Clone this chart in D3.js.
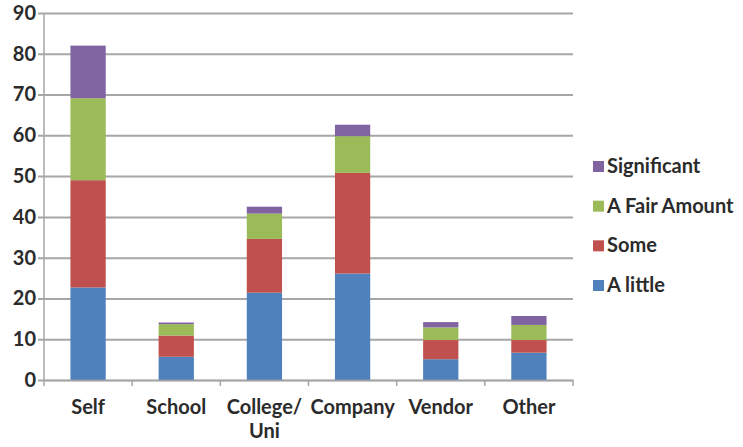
<!DOCTYPE html>
<html>
<head>
<meta charset="utf-8">
<script src="https://cdn.jsdelivr.net/npm/d3@7"></script>
<style>
  body { margin: 0; background: #fff; }
  text { font-family: Lato, "Open Sans", sans-serif; }
</style>
</head>
<body>
<div id="chart"></div>
<script>
// data
let categories = ['Self', 'School', 'College/ Uni', 'Company', 'Vendor', 'Other'];
let seriesNames = ['A little', 'Some', 'A Fair Amount', 'Significant'];
let aLittle = [22.7, 5.7, 21.4, 26.1, 5.1, 6.7];
let some = [26.3, 5.2, 13.2, 24.7, 4.7, 3.1];
let fairAmount = [20.1, 2.8, 6.2, 9.0, 3.1, 3.7];
let significant = [12.9, 0.4, 1.7, 2.8, 1.3, 2.2];
let yTicks = [0, 10, 20, 30, 40, 50, 60, 70, 80, 90];

let colors = ['#4f81bd', '#c0504d', '#9bbb59', '#8064a2'];

let w = 743;
let h = 447;
let pl = 44, pr = 573, pt = 13, pb = 380;

let svg = d3.select('#chart')
    .append('svg')
    .attr('width', w)
    .attr('height', h);

let rows = categories.map(function(c, i) {
    return {cat: c, 'A little': aLittle[i], 'Some': some[i], 'A Fair Amount': fairAmount[i], 'Significant': significant[i]};
});
let stacked = d3.stack().keys(seriesNames)(rows);

let x = d3.scaleBand().domain(categories).range([pl, pr]).paddingInner(0).paddingOuter(0);
let y = d3.scaleLinear().domain([0, 90]).range([pb, pt]);

// gridlines + y ticks
let yAxis = d3.axisLeft(y).tickValues(yTicks).tickSize(-(pr - pl)).tickPadding(8);
let gy = svg.append('g').attr('transform', 'translate(' + pl + ',0)').call(yAxis);
gy.select('.domain').remove();
gy.selectAll('.tick line')
    .attr('x1', -6)
    .attr('stroke', '#a6a6a6')
    .attr('stroke-width', 2);
gy.selectAll('.tick text')
    .attr('font-size', '20px')
    .attr('font-weight', 'bold')
    .attr('fill', '#2b2b2b');

// y axis line
svg.append('line')
    .attr('x1', pl).attr('x2', pl)
    .attr('y1', pt).attr('y2', pb)
    .attr('stroke', '#a6a6a6').attr('stroke-width', 1.5);

// bars
let bw = x.bandwidth() * 0.4;
svg.selectAll('.layer')
    .data(stacked)
    .enter()
    .append('g')
    .attr('fill', function(d, i) {return colors[i];})
    .selectAll('rect')
    .data(function(d) {return d;})
    .enter()
    .append('rect')
    .attr('x', function(d) {return x(d.data.cat) + (x.bandwidth() - bw) / 2;})
    .attr('y', function(d) {return y(d[1]);})
    .attr('width', bw)
    .attr('height', function(d) {return y(d[0]) - y(d[1]);});

// x axis
let xAxis = d3.axisBottom(x).tickSize(0).tickPadding(18);
let gx = svg.append('g').attr('transform', 'translate(0,' + pb + ')').call(xAxis);
gx.select('.domain').attr('stroke', '#a6a6a6').attr('stroke-width', 1.5);
gx.selectAll('.tick text').remove();
// boundary tick marks
let bounds = categories.map(function(c) {return x(c);}).concat([pr]);
svg.selectAll('.xb')
    .data(bounds)
    .enter()
    .append('line')
    .attr('x1', function(d) {return d;}).attr('x2', function(d) {return d;})
    .attr('y1', pb).attr('y2', pb + 6)
    .attr('stroke', '#a6a6a6').attr('stroke-width', 1.5);

svg.selectAll('.xlab')
    .data(categories)
    .enter()
    .append('text')
    .attr('text-anchor', 'middle')
    .attr('font-size', '20px')
    .attr('font-weight', 'bold')
    .attr('fill', '#2b2b2b')
    .attr('x', function(d) {return x(d) + x.bandwidth() / 2;})
    .attr('y', 414)
    .each(function(d) {
        let parts = d === 'College/ Uni' ? ['College/', 'Uni'] : [d];
        let t = d3.select(this);
        parts.forEach(function(p, i) {
            t.append('tspan')
                .attr('x', x(d) + x.bandwidth() / 2)
                .attr('dy', i === 0 ? 0 : 24)
                .text(p);
        });
    });

// legend
let legendItems = seriesNames.map(function(s, i) {return {name: s, color: colors[i]};}).reverse();
let ly = d3.scalePoint().domain(legendItems.map(function(d) {return d.name;})).range([166, 285]);
let lg = svg.selectAll('.legend')
    .data(legendItems)
    .enter()
    .append('g')
    .attr('transform', function(d) {return 'translate(593,' + ly(d.name) + ')';});
lg.append('rect')
    .attr('x', 0).attr('y', -5)
    .attr('width', 11).attr('height', 11)
    .attr('fill', function(d) {return d.color;});
lg.append('text')
    .attr('x', 14)
    .attr('y', 7)
    .attr('font-size', '20px')
    .attr('font-weight', 'bold')
    .attr('fill', '#2b2b2b')
    .text(function(d) {return d.name;});
</script>
</body>
</html>
